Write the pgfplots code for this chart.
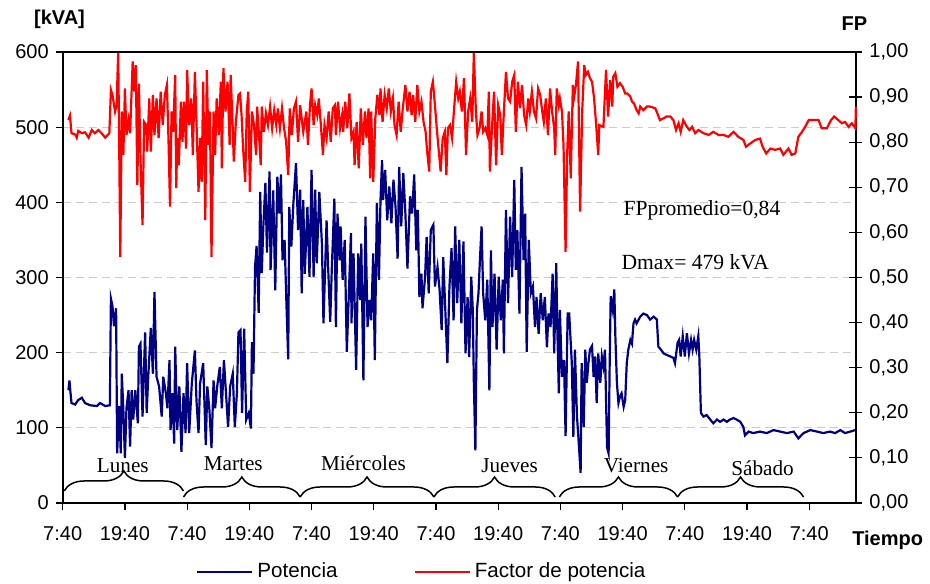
\documentclass[border=0pt]{standalone}
\usepackage{fontspec}
\setmainfont{Liberation Sans}
\newfontfamily\timesfont{Liberation Serif}
\usepackage{pgfplots}
\pgfplotsset{compat=1.18}
\usetikzlibrary{decorations.pathreplacing}
\definecolor{potnavy}{RGB}{0,0,128}
\definecolor{fpred}{RGB}{255,0,0}

\begin{document}
\begin{tikzpicture}
\pgfplotsset{
  every axis/.append style={
    scale only axis, width=396.6pt, height=225.5pt,
    at={(0,0)}, anchor=south west,
    xmin=0, xmax=153,
    font=\fontsize{10}{12}\selectfont,
    /pgf/number format/assume math mode=true,
    axis line style={black, line width=0.9pt},
    every tick/.style={black, line width=0.6pt},
    clip=false,
  }
}
% left axis: potencia [kVA]
\begin{axis}[
  ymin=0, ymax=600, ytick={0,100,...,600},
  xtick={0,12,...,144},
  xticklabels={7:40,19:40,7:40,19:40,7:40,19:40,7:40,19:40,7:40,19:40,7:40,19:40,7:40},
  xticklabel style={yshift=-4.5pt},
  tick pos=left, tick align=outside, major tick length=3.5pt,
  ymajorgrids, grid style={gray!40, dash pattern=on 4pt off 2.5pt, line width=0.5pt},
  legend style={at={(0.454,-0.153)}, anchor=center, draw=none, fill=none,
    legend columns=2, font=\fontsize{10.3}{12}\selectfont,
    /tikz/every even column/.append style={column sep=36pt}},
  legend image code/.code={\draw[#1] (0pt,0pt) -- (27.5pt,0pt);},
]
\addplot[potnavy, line width=1.1pt] coordinates {
(1.1,150)(1.3,163)(1.5,147)(1.7,133)(2.4,131)(3.0,137)(3.7,140)(4.3,133)(5.3,130)(6.6,129)
(7.2,133)(8.2,129)(9.1,130)(9.3,272)(9.6,262)(9.9,235)(10.3,259)(10.5,66)(10.9,129)(11.2,66)
(11.4,172)(11.7,124)(12.0,60)(12.3,126)(12.7,150)(13.0,75)(13.3,150)(13.6,111)(14.0,150)(14.5,106)
(14.7,208)(15.0,212)(15.4,115)(15.9,227)(16.2,120)(16.5,168)(17.0,233)(17.4,172)(17.7,281)(18.1,168)
(18.6,155)(19.1,115)(19.4,168)(19.9,146)(20.2,126)(20.6,190)(20.8,97)(21.2,146)(21.5,79)(21.7,208)
(22.1,97)(22.5,155)(22.9,68)(23.3,146)(23.7,93)(24.0,186)(24.4,93)(24.9,159)(25.5,203)(25.8,137)
(26.2,93)(26.5,159)(27.1,186)(27.6,77)(27.9,155)(28.3,124)(28.7,73)(29.1,163)(29.4,126)(29.8,155)
(30.3,181)(30.7,126)(31.1,190)(31.5,146)(31.9,101)(32.3,155)(32.8,172)(33.2,101)(33.6,146)(33.9,227)
(34.3,230)(34.6,120)(35.0,232)(35.4,111)(35.9,120)(36.3,99)(36.5,214)(36.8,172)(37.1,314)(37.4,342)
(37.8,253)(38.1,414)(38.4,306)(38.7,368)(39.1,426)(39.4,333)(39.9,441)(40.1,310)(40.6,416)(41.0,283)
(41.4,434)(41.8,385)(42.1,437)(42.4,323)(42.8,350)(43.2,255)(43.5,191)(43.7,394)(44.1,341)(44.5,399)
(45.0,452)(45.4,363)(45.8,417)(46.1,279)(46.4,403)(46.7,305)(47.2,394)(47.6,301)(48.0,443)(48.4,301)
(48.7,417)(49.0,319)(49.5,414)(50.0,345)(50.3,239)(50.9,376)(51.2,314)(51.6,241)(51.9,310)(52.4,405)
(52.7,234)(53.0,385)(53.4,323)(53.6,368)(54.0,297)(54.4,350)(54.8,201)(55.2,279)(55.6,359)(55.7,239)
(56.1,332)(56.3,270)(56.6,177)(57.0,332)(57.4,270)(57.6,345)(58.0,163)(58.4,381)(58.8,234)(59.2,270)
(59.5,243)(59.9,332)(60.2,190)(60.6,399)(61.0,297)(61.3,403)(61.6,456)(61.8,403)(62.2,443)(62.6,376)
(63.0,421)(63.4,372)(63.8,430)(64.2,394)(64.6,325)(64.9,447)(65.3,368)(65.7,439)(66.1,385)(66.5,312)
(67.0,408)(67.4,385)(67.8,437)(68.2,336)(68.5,390)(68.8,274)(69.2,305)(69.4,259)(69.9,301)(70.2,354)
(70.6,279)(71.0,363)(71.5,370)(71.8,288)(72.3,314)(72.7,283)(73.1,230)(73.4,327)(73.8,257)(74.2,186)
(74.6,288)(75.0,339)(75.4,243)(75.7,368)(76.1,266)(76.5,350)(76.9,239)(77.3,348)(77.7,199)(78.1,274)
(78.4,194)(78.8,301)(79.1,257)(79.3,163)(79.6,70)(79.9,257)(80.2,279)(80.5,327)(80.8,368)(81.1,279)
(81.5,243)(81.9,297)(82.3,150)(82.6,336)(82.9,234)(83.3,305)(83.7,204)(84.1,301)(84.5,243)(84.9,297)
(85.1,199)(85.5,390)(85.9,266)(86.3,381)(86.7,301)(87.1,430)(87.4,310)(87.7,363)(88.1,252)(88.5,447)
(88.9,323)(89.2,385)(89.5,201)(89.9,350)(90.3,279)(90.7,288)(91.1,234)(91.4,274)(91.8,225)(92.2,279)
(92.6,243)(93.0,274)(93.4,207)(93.7,252)(94.1,234)(94.5,305)(94.8,199)(95.2,319)(95.4,234)(95.7,146)
(95.9,257)(96.3,168)(96.7,190)(97.0,89)(97.4,252)(97.7,252)(98.2,186)(98.5,88)(98.8,204)(99.2,115)
(99.5,84)(99.9,40)(100.1,186)(100.5,101)(100.8,204)(101.1,160)(101.4,186)(101.7,204)(102.1,209)(102.4,168)
(102.7,195)(103.0,133)(103.3,199)(103.7,160)(104.0,195)(104.3,182)(104.6,204)(105.0,74)(105.3,66)(105.5,182)
(105.7,275)(106.1,257)(106.4,284)(106.6,222)(106.9,160)(107.2,133)(107.5,142)(107.8,146)(108.2,128)(108.5,137)
(108.8,186)(109.1,204)(109.5,217)(109.8,212)(110.1,239)(110.4,244)(110.7,239)(111.4,248)(112.0,252)(112.7,250)
(113.3,244)(114.0,248)(114.6,244)(114.9,208)(115.4,204)(115.9,199)(116.5,197)(117.2,195)(117.8,193)(118.1,186)
(118.6,213)(118.9,217)(119.2,195)(119.6,222)(120.0,195)(120.4,226)(120.8,199)(121.2,217)(121.5,204)(121.8,217)
(122.2,204)(122.6,222)(122.8,195)(123.1,120)(123.6,115)(124.2,117)(124.9,111)(125.5,106)(126.2,111)(126.8,108)
(127.5,111)(128.1,108)(128.7,111)(129.4,113)(130.0,111)(130.7,108)(131.3,101)(131.6,90)(132.3,95)(133.2,93)
(134.5,95)(135.8,93)(137.1,97)(138.4,95)(139.7,93)(141.0,95)(141.9,86)(142.9,93)(144.2,97)(145.5,95)
(146.7,93)(148.0,95)(149.0,93)(150.0,97)(150.9,93)(151.9,95)(152.9,97)
};
\addlegendentry{Potencia}
\addlegendimage{fpred, line width=1.1pt}
\addlegendentry{Factor de potencia}

% day braces and labels
\draw[decorate, decoration={brace, amplitude=10pt}, line width=0.75pt] (axis cs:0.3,16) -- (axis cs:23.3,16);
\draw[decorate, decoration={brace, amplitude=10pt}, line width=0.75pt] (axis cs:23.3,8) -- (axis cs:45.8,8);
\draw[decorate, decoration={brace, amplitude=10pt}, line width=0.75pt] (axis cs:45.8,8) -- (axis cs:71.6,8);
\draw[decorate, decoration={brace, amplitude=10pt}, line width=0.75pt] (axis cs:71.6,8) -- (axis cs:95.0,8);
\draw[decorate, decoration={brace, amplitude=10pt}, line width=0.75pt] (axis cs:95.8,8) -- (axis cs:118.6,8);
\draw[decorate, decoration={brace, amplitude=10pt}, line width=0.75pt] (axis cs:118.6,8) -- (axis cs:142.9,8);
\begin{scope}[every node/.style={font=\timesfont\fontsize{10.6}{12}\selectfont, anchor=base, inner sep=0pt}]
\node at (axis cs:11.6,41) {Lunes};
\node at (axis cs:32.9,43) {Martes};
\node at (axis cs:58.0,43) {Miércoles};
\node at (axis cs:86.2,41) {Jueves};
\node at (axis cs:110.6,40) {Viernes};
\node at (axis cs:135.0,36) {Sábado};
\end{scope}
\node[font=\timesfont\fontsize{10.8}{12}\selectfont, anchor=base, inner sep=0pt] at (axis cs:123.3,382) {FPpromedio=0,84};
\node[font=\timesfont\fontsize{10.8}{12}\selectfont, anchor=base, inner sep=0pt] at (axis cs:122.0,311) {Dmax= 479 kVA};
\node[font=\bfseries\fontsize{10}{12}\selectfont, inner sep=0pt] at (rel axis cs:-0.004,1.073) {[kVA]};
\node[font=\bfseries\fontsize{10}{12}\selectfont, inner sep=0pt] at (rel axis cs:0.998,1.064) {FP};
\node[font=\bfseries\fontsize{10}{12}\selectfont, inner sep=0pt] at (rel axis cs:1.040,-0.082) {Tiempo};
\end{axis}

% right axis: factor de potencia
\begin{axis}[
  ymin=0, ymax=1, ytick={0,0.1,0.2,0.3,0.4,0.5,0.6,0.7,0.8,0.9,1},
  axis y line*=right, axis x line=none,
  tick align=center, major tick length=6.5pt,
  yticklabel style={/pgf/number format/.cd, fixed, fixed zerofill, precision=2, use comma},
]
\addplot[fpred, line width=1.1pt] coordinates {
(1.1,0.849)(1.4,0.859)(1.7,0.820)(2.4,0.817)(2.7,0.810)(3.0,0.825)(3.7,0.820)(4.3,0.822)(5.0,0.810)(5.6,0.827)
(6.2,0.820)(6.9,0.827)(7.5,0.820)(8.2,0.810)(9.0,0.820)(9.3,0.916)(9.6,0.905)(10.1,0.868)(10.4,0.882)(10.7,0.998)
(10.9,0.794)(11.1,0.546)(11.4,0.868)(11.7,0.772)(12.0,0.919)(12.3,0.816)(12.7,0.849)(13.0,0.820)(13.5,0.979)(13.8,0.912)
(14.1,0.971)(14.4,0.705)(14.7,0.930)(15.0,0.764)(15.4,0.616)(15.7,0.845)(16.1,0.838)(16.3,0.779)(16.7,0.897)(17.0,0.779)
(17.4,0.905)(17.7,0.816)(18.1,0.897)(18.5,0.809)(18.9,0.912)(19.3,0.838)(19.7,0.905)(20.1,0.927)(20.4,0.809)(20.7,0.657)
(21.0,0.868)(21.3,0.823)(21.7,0.949)(21.9,0.698)(22.1,0.809)(22.4,0.749)(22.8,0.890)(23.1,0.801)(23.4,0.890)(23.8,0.786)
(24.0,0.960)(24.4,0.838)(24.8,0.897)(25.1,0.772)(25.5,0.956)(25.8,0.845)(26.2,0.690)(26.5,0.809)(26.8,0.712)(27.1,0.934)
(27.5,0.627)(27.8,0.960)(28.1,0.794)(28.4,0.868)(28.7,0.546)(29.1,0.868)(29.4,0.772)(29.7,0.897)(30.1,0.816)(30.5,0.934)
(30.7,0.742)(31.0,0.964)(31.4,0.868)(31.8,0.934)(32.2,0.794)(32.4,0.949)(32.8,0.831)(33.0,0.757)(33.4,0.845)(33.9,0.905)
(34.2,0.908)(34.5,0.860)(34.8,0.786)(35.2,0.712)(35.5,0.868)(35.8,0.912)(36.1,0.690)(36.5,0.868)(36.9,0.838)(37.3,0.772)
(37.5,0.879)(37.9,0.809)(38.2,0.749)(38.4,0.879)(38.8,0.823)(39.2,0.864)(39.6,0.838)(40.0,0.879)(40.4,0.831)(40.8,0.871)
(41.2,0.838)(41.5,0.875)(41.9,0.831)(42.3,0.875)(42.7,0.831)(43.1,0.801)(43.5,0.727)(43.8,0.875)(44.2,0.816)(44.6,0.875)
(45.0,0.890)(45.4,0.801)(45.8,0.882)(46.4,0.823)(47.0,0.868)(47.3,0.794)(47.7,0.882)(48.0,0.919)(48.4,0.838)(48.7,0.882)
(49.1,0.860)(49.4,0.897)(49.8,0.838)(50.2,0.772)(50.5,0.838)(50.9,0.809)(51.3,0.868)(51.7,0.801)(52.1,0.875)(52.5,0.882)
(52.7,0.816)(53.1,0.890)(53.5,0.831)(53.9,0.860)(54.1,0.823)(54.5,0.890)(54.9,0.831)(55.3,0.908)(55.7,0.809)(56.1,0.823)
(56.3,0.749)(56.7,0.845)(57.1,0.742)(57.5,0.875)(57.9,0.794)(58.3,0.868)(58.6,0.809)(59.0,0.875)(59.3,0.720)(59.5,0.868)
(59.9,0.712)(60.3,0.853)(60.7,0.905)(61.1,0.860)(61.3,0.919)(61.7,0.845)(62.1,0.905)(62.5,0.875)(62.9,0.919)(63.3,0.868)
(63.7,0.897)(64.0,0.838)(64.4,0.816)(64.8,0.890)(65.2,0.823)(65.6,0.875)(66.1,0.927)(66.5,0.868)(66.9,0.912)(67.3,0.860)
(67.6,0.905)(68.0,0.845)(68.4,0.927)(68.8,0.868)(69.2,0.890)(69.6,0.845)(70.0,0.823)(70.3,0.779)(70.7,0.735)(71.0,0.912)
(71.4,0.934)(71.8,0.882)(72.1,0.838)(72.5,0.786)(72.9,0.735)(73.3,0.809)(73.7,0.823)(74.0,0.727)(74.3,0.831)(74.7,0.838)
(75.1,0.809)(75.5,0.875)(75.9,0.934)(76.3,0.897)(76.6,0.912)(77.0,0.868)(77.4,0.942)(77.8,0.772)(78.2,0.868)(78.6,0.897)
(79.0,0.845)(79.3,0.998)(79.7,0.868)(80.0,0.816)(80.4,0.831)(80.8,0.868)(81.1,0.823)(81.5,0.831)(81.9,0.816)(82.2,0.912)
(82.4,0.735)(82.8,0.831)(83.2,0.912)(83.6,0.749)(84.0,0.882)(84.4,0.860)(84.7,0.772)(85.1,0.868)(85.5,0.956)(85.9,0.897)
(86.3,0.890)(86.7,0.934)(87.1,0.949)(87.4,0.823)(87.8,0.934)(88.2,0.875)(88.6,0.927)(89.0,0.860)(89.4,0.838)(89.8,0.897)
(90.1,0.868)(90.5,0.912)(90.9,0.868)(91.3,0.853)(91.7,0.919)(92.1,0.905)(92.5,0.868)(92.8,0.845)(93.2,0.897)(93.6,0.816)
(94.0,0.919)(94.4,0.868)(94.8,0.831)(95.0,0.772)(95.3,0.919)(95.7,0.882)(95.9,0.897)(96.3,0.868)(96.6,0.794)(97.0,0.557)
(97.3,0.772)(97.6,0.868)(98.0,0.720)(98.4,0.927)(98.6,0.897)(99.0,0.927)(99.4,0.979)(99.8,0.646)(100.2,0.868)(100.6,0.971)
(100.9,0.949)(101.3,0.956)(101.7,0.942)(102.1,0.934)(102.5,0.897)(102.9,0.838)(103.3,0.772)(103.5,0.838)(104.3,0.834)(104.8,0.960)
(105.2,0.857)(105.6,0.938)(106.0,0.879)(106.2,0.945)(106.6,0.953)(107.0,0.923)(107.5,0.931)(108.0,0.923)(108.5,0.908)(108.9,0.908)
(109.5,0.901)(109.8,0.890)(110.2,0.886)(110.7,0.871)(111.1,0.864)(111.4,0.879)(112.0,0.871)(112.7,0.879)(113.3,0.879)(114.3,0.875)
(114.7,0.864)(115.2,0.849)(115.9,0.853)(116.5,0.857)(117.2,0.857)(117.8,0.849)(118.3,0.827)(118.8,0.842)(119.2,0.823)(119.7,0.849)
(120.4,0.834)(120.9,0.827)(121.4,0.834)(122.0,0.820)(122.6,0.827)(123.6,0.820)(124.6,0.816)(125.5,0.823)(126.5,0.816)(127.5,0.816)
(128.4,0.812)(129.4,0.823)(130.3,0.812)(131.3,0.805)(131.8,0.790)(132.6,0.797)(133.6,0.805)(134.5,0.808)(135.0,0.790)(135.7,0.775)
(136.5,0.786)(137.4,0.783)(138.4,0.786)(139.0,0.772)(140.0,0.786)(140.6,0.772)(141.3,0.775)(141.9,0.812)(142.6,0.823)(143.2,0.834)
(143.9,0.849)(144.8,0.849)(145.8,0.849)(146.4,0.831)(147.4,0.831)(148.2,0.849)(148.8,0.857)(149.6,0.849)(150.3,0.842)(150.9,0.845)
(151.6,0.834)(152.2,0.842)(152.9,0.831)(153.0,0.879)
};
\end{axis}
\pgfresetboundingbox
\useasboundingbox (-31.35pt,-40pt) rectangle (433.65pt,251.5pt);
\end{tikzpicture}
\end{document}
